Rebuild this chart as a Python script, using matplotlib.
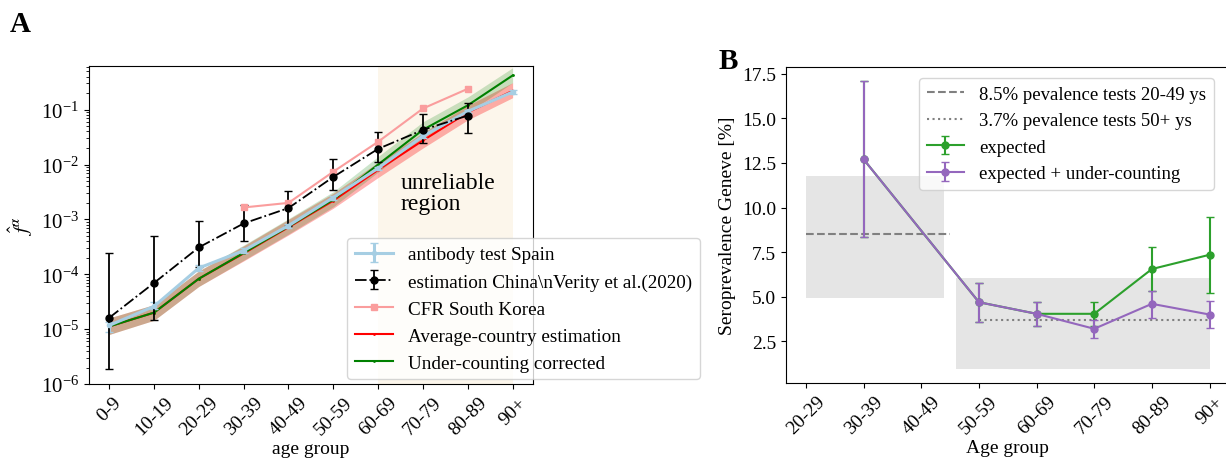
import numpy as np
import matplotlib
matplotlib.use("Agg")
import matplotlib.pyplot as plt
from matplotlib.ticker import MultipleLocator, FormatStrFormatter

plt.rcParams['font.family'] = ['Liberation Serif', 'DejaVu Serif']
plt.rcParams['mathtext.fontset'] = 'stix'
plt.rcParams['font.size'] = 14

# ---- panel A data ----
ages_a = ['0-9', '10-19', '20-29', '30-39', '40-49', '50-59', '60-69', '70-79', '80-89', '90+']

spain = [1.17e-5, 2.6e-5, 1.3e-4, 2.7e-4, 7.7e-4, 2.5e-3, 8.6e-3, 3.3e-2, 9.3e-2, 0.21]
spain_lo = [9.0e-6, 2.3e-5, 1.15e-4, 2.45e-4, 7.0e-4, 2.3e-3, 8.0e-3, 3.05e-2, 8.7e-2, 0.195]
spain_hi = [1.35e-5, 3.1e-5, 1.45e-4, 2.95e-4, 8.4e-4, 2.7e-3, 9.2e-3, 3.55e-2, 1.0e-1, 0.225]

verity = [1.61e-5, 6.95e-5, 3.09e-4, 8.44e-4, 1.61e-3, 5.95e-3, 1.93e-2, 4.28e-2, 7.80e-2]
verity_lo = [1.85e-6, 1.49e-5, 1.38e-4, 4.08e-4, 7.64e-4, 3.44e-3, 1.11e-2, 2.45e-2, 3.80e-2]
verity_hi = [2.49e-4, 5.02e-4, 9.23e-4, 1.85e-3, 3.23e-3, 1.28e-2, 3.89e-2, 8.44e-2, 1.33e-1]

korea_ages = ['30-39', '40-49', '50-59', '60-69', '70-79', '80-89']
korea = [1.65e-3, 2.0e-3, 7.4e-3, 2.6e-2, 0.105, 0.24]

average = [1.12e-5, 2.0e-5, 8.3e-5, 2.4e-4, 7.2e-4, 2.2e-3, 8.0e-3, 2.75e-2, 8.9e-2, 0.22]
average_lo = [8.0e-6, 1.45e-5, 6.0e-5, 1.75e-4, 5.2e-4, 1.6e-3, 5.8e-3, 2.0e-2, 6.5e-2, 0.165]
average_hi = [1.6e-5, 2.8e-5, 1.15e-4, 3.3e-4, 1.0e-3, 3.0e-3, 1.1e-2, 3.8e-2, 0.12, 0.31]

corrected = [1.12e-5, 2.0e-5, 8.3e-5, 2.45e-4, 7.4e-4, 2.3e-3, 1.0e-2, 4.3e-2, 0.12, 0.42]
corrected_lo = [8.0e-6, 1.45e-5, 6.0e-5, 1.8e-4, 5.4e-4, 1.7e-3, 7.3e-3, 3.1e-2, 8.8e-2, 0.31]
corrected_hi = [1.6e-5, 2.8e-5, 1.15e-4, 3.4e-4, 1.03e-3, 3.2e-3, 1.4e-2, 6.0e-2, 0.17, 0.58]

# ---- panel B data ----
ages_b = ['20-29', '30-39', '40-49', '50-59', '60-69', '70-79', '80-89', '90+']
geneve_ages = ['30-39', '50-59', '60-69', '70-79', '80-89', '90+']
expected = [12.7, 4.69, 4.04, 4.04, 6.55, 7.35]
expected_lo = [8.37, 3.59, 3.35, 3.38, 5.34, 5.2]
expected_hi = [17.07, 5.77, 4.72, 4.69, 7.78, 9.45]
under = [12.7, 4.69, 4.04, 3.2, 4.6, 4.0]
under_lo = [8.37, 3.59, 3.35, 2.7, 3.81, 3.25]
under_hi = [17.07, 5.77, 4.72, 3.72, 5.34, 4.78]
prev_young, prev_young_lo, prev_young_hi = 8.5, 4.95, 11.75
prev_old, prev_old_lo, prev_old_hi = 3.7, 0.96, 6.05

fig = plt.figure(figsize=(12.26, 4.6), dpi=100)
ax = fig.add_axes([0.0726, 0.163, 0.362, 0.691])
bx = fig.add_axes([0.641, 0.165, 0.362, 0.687])

# ---- panel A ----
xa = np.arange(len(ages_a))
ax.axvspan(6, 9, color='wheat', alpha=0.25, lw=0)
ax.fill_between(xa, average_lo, average_hi, color='red', alpha=0.3, lw=0)
ax.fill_between(xa, corrected_lo, corrected_hi, color='green', alpha=0.2, lw=0)
l_avg, = ax.plot(xa, average, color='red', marker='.', ms=2, lw=1.5)
l_cor, = ax.plot(xa, corrected, color='green', marker='.', ms=2, lw=1.5)

sp = np.array(spain)
e_sp = ax.errorbar(xa, sp, yerr=[sp - np.array(spain_lo), np.array(spain_hi) - sp],
                   color='#a6cee3', marker='.', ms=6, lw=2.2, capsize=3)
xv = np.arange(len(verity))
ve = np.array(verity)
e_ve = ax.errorbar(xv, ve, yerr=[ve - np.array(verity_lo), np.array(verity_hi) - ve],
                   fmt='-.', color='black', marker='o', ms=5, lw=1.3, capsize=3)
xk = [ages_a.index(a) for a in korea_ages]
l_kor, = ax.plot(xk, korea, color='#fa9d9d', marker='s', ms=5, lw=1.5)

ax.set_yscale('log')
ax.set_ylim(1e-6, 0.62)
ax.set_xticks(xa)
ax.set_xticklabels(ages_a, rotation=45)
ax.set_xlabel('age group', labelpad=1)
ax.set_ylabel(r'$\hat{f}^{\alpha}$', fontsize=15)
ax.tick_params(axis='y', labelsize=15)
ax.text(6.5, 3.0e-3, 'unreliable\nregion', fontsize=17, va='center', ha='left', linespacing=1.0)
ax.legend([e_sp, e_ve, l_kor, l_avg, l_cor],
          ['antibody test Spain', 'estimation China\\nVerity et al.(2020)', 'CFR South Korea',
           'Average-country estimation', 'Under-counting corrected'],
          loc='lower left', bbox_to_anchor=(0.56, -0.015), fontsize=13.8)

# ---- panel B ----
xg = [ages_b.index(a) for a in geneve_ages]
bx.fill_between([0, 2.4], prev_young_lo, prev_young_hi, color='gray', alpha=0.2, lw=0)
bx.fill_between([2.6, 7], prev_old_lo, prev_old_hi, color='gray', alpha=0.2, lw=0)
bx.plot([0, 2.5], [prev_young, prev_young], '--', color='gray', lw=1.5,
        label='8.5% pevalence tests 20-49 ys')
bx.plot([3, 7], [prev_old, prev_old], ':', color='gray', lw=1.5,
        label='3.7% pevalence tests 50+ ys')
ex = np.array(expected)
bx.errorbar(xg, ex, yerr=[ex - np.array(expected_lo), np.array(expected_hi) - ex],
            color='#2ca02c', marker='o', ms=5, lw=1.5, capsize=3, label='expected')
un = np.array(under)
bx.errorbar(xg, un, yerr=[un - np.array(under_lo), np.array(under_hi) - un],
            color='#9467bd', marker='o', ms=5, lw=1.5, capsize=3, label='expected + under-counting')
bx.set_xticks(np.arange(len(ages_b)))
bx.set_xticklabels(ages_b, rotation=45)
bx.set_xlim(-0.35, 7.35)
bx.yaxis.set_major_locator(MultipleLocator(2.5))
bx.yaxis.set_major_formatter(FormatStrFormatter('%.1f'))
bx.set_xlabel('Age group', labelpad=1)
bx.set_ylabel('Seroprevalence Geneve [%]')
bx.legend(loc='upper right', bbox_to_anchor=(0.985, 0.995), fontsize=13.5)

fig.text(0.008, 0.975, 'A', fontsize=21, weight='bold', va='top')
fig.text(0.586, 0.895, 'B', fontsize=21, weight='bold', va='top')

fig.savefig('out.png', dpi=100)
